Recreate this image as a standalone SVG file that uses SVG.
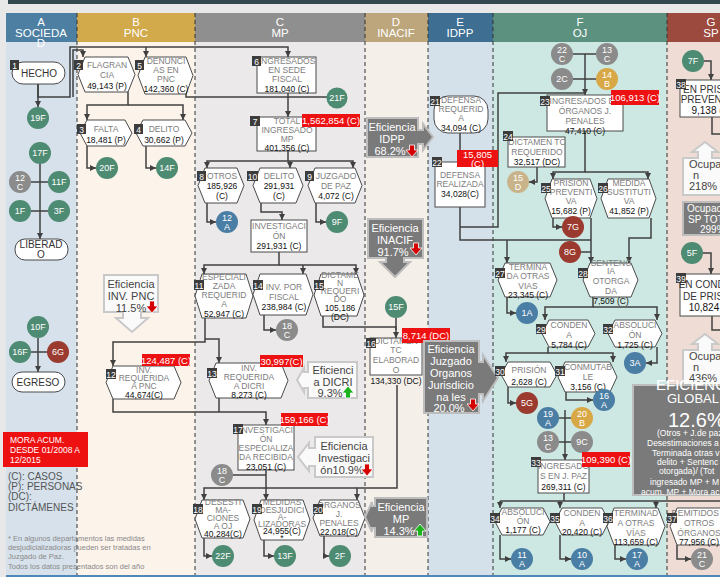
<svg xmlns="http://www.w3.org/2000/svg" width="720" height="577" viewBox="0 0 720 577">
<style>
text{font-family:"Liberation Sans",Arial,sans-serif}
.hd{font-size:11.5px;fill:#fff;text-anchor:middle}
.l{font-size:8.5px;fill:#7d7d7d;text-anchor:middle}
.v{font-size:8.5px;fill:#111;text-anchor:middle}
.d{font-size:10px;fill:#333;text-anchor:middle}
.bg{fill:#3c3c3c}
.bt{font-size:8.5px;fill:#fff;text-anchor:middle}
.ci{font-size:9px;fill:#fff;text-anchor:middle}
.rl{fill:#ee1111}
.rt{font-size:9.5px;fill:#fff;text-anchor:middle}
.cw{fill:#fafafa;stroke:#c9c9c9;stroke-width:2}
.cg{fill:#7a7a7a;stroke:#bdbdbd;stroke-width:2}
.ct{font-size:11px;fill:#444;text-anchor:middle}
.cgt{font-size:11px;fill:#fff;text-anchor:middle}
.n{fill:#fff;stroke:#4a4a4a;stroke-width:1}
.e{fill:none;stroke:#404040;stroke-width:1.5}
.a{marker-end:url(#ah)}
.dash{stroke:#333;stroke-width:1;stroke-dasharray:4 3}
.gF{fill:#4e8b73}.gC{fill:#8b8b8b}.gA{fill:#4a7ea5}.gG{fill:#9b3a2e}.gB{fill:#d8a847}.gD{fill:#c9b38a}
.sm{font-size:8.5px;fill:#fff}
</style>
<defs>
<marker id="ah" markerWidth="8" markerHeight="8" refX="6" refY="3" orient="auto" markerUnits="userSpaceOnUse"><path d="M0,0 L6,3 L0,6 z" fill="#404040"/></marker>
<path id="dn" d="M-2.5,-6 H2.5 V-1 H6 L0,6 L-6,-1 H-2.5 Z" fill="#d40000" stroke="#fff" stroke-width="0.8"/>
<path id="up" d="M-2.5,6 H2.5 V1 H6 L0,-6 L-6,1 H-2.5 Z" fill="#1db31d" stroke="#fff" stroke-width="0.8"/>
</defs>

<!-- background -->
<rect x="0" y="0" width="720" height="577" fill="#e8e8e8"/>
<rect x="8" y="0" width="712" height="4" fill="#34474f"/>
<rect x="6" y="42" width="71" height="533" fill="#d6e1eb"/>
<rect x="77" y="42" width="118" height="533" fill="#fcf3ea"/>
<rect x="195" y="42" width="170" height="533" fill="#ebe9ea"/>
<rect x="365" y="42" width="63" height="533" fill="#f5efe9"/>
<rect x="428" y="42" width="65" height="533" fill="#d5e1ea"/>
<rect x="493" y="42" width="174" height="533" fill="#cde8e2"/>
<rect x="667" y="42" width="53" height="533" fill="#efdcd5"/>
<rect x="6" y="575" width="714" height="2" fill="#4f87b8"/>

<!-- headers -->
<rect x="6" y="13" width="71" height="29" fill="#4d7fa3"/>
<rect x="77" y="13" width="118" height="29" fill="#d2a94b"/>
<rect x="195" y="13" width="170" height="29" fill="#8f8f8f"/>
<rect x="365" y="13" width="63" height="29" fill="#bda67c"/>
<rect x="428" y="13" width="65" height="29" fill="#3e6e92"/>
<rect x="493" y="13" width="174" height="29" fill="#5d917f"/>
<rect x="667" y="13" width="53" height="29" fill="#9c4a3e"/>
<text class="hd" x="41" y="26">A</text><text class="hd" x="41" y="36.5">SOCIEDA</text><text class="hd" x="41" y="47">D</text>
<text class="hd" x="136" y="26">B</text><text class="hd" x="136" y="36.5">PNC</text>
<text class="hd" x="280" y="26">C</text><text class="hd" x="280" y="36.5">MP</text>
<text class="hd" x="396" y="26">D</text><text class="hd" x="396" y="36.5">INACIF</text>
<text class="hd" x="460" y="26">E</text><text class="hd" x="460" y="36.5">IDPP</text>
<text class="hd" x="580" y="26">F</text><text class="hd" x="580" y="36.5">OJ</text>
<text class="hd" x="711" y="26">G</text><text class="hd" x="711" y="36.5">SP</text>

<g id="lanes">
<line class="dash" x1="77" y1="13" x2="77" y2="575"/>
<line class="dash" x1="195" y1="13" x2="195" y2="575"/>
<line class="dash" x1="365" y1="13" x2="365" y2="575"/>
<line class="dash" x1="428" y1="13" x2="428" y2="575"/>
<line class="dash" x1="493" y1="13" x2="493" y2="575"/>
<line class="dash" x1="667" y1="13" x2="667" y2="575"/>
</g>

<!-- connectors -->
<g id="connectors">
<path class="e a" d="M38,84 V107"/>
<path class="e a" d="M38,84 V97 H70 V47 H288 V57"/>
<path class="e a" d="M146,47 V57"/>
<path class="e a" d="M73,97 V50 H83 V57"/>
<path class="e a" d="M128,92 V105 H87 V120"/>
<path class="e a" d="M128,105 H183 V120"/>
<path class="e a" d="M87,146 V168 H96"/>
<path class="e a" d="M146,146 V168 H156"/>
<path class="e" d="M186,92 V97 H327"/>
<path class="e a" d="M288,93 V117"/>
<path class="e a" d="M288,151 V161 H207 V168"/>
<path class="e a" d="M288,161 H353 V168"/>
<path class="e a" d="M290,161 V168"/>
<path class="e a" d="M207,203 V222 H216"/>
<path class="e a" d="M316,203 V222 H326"/>
<path class="e a" d="M261,203 V212 H282 V220"/>
<path class="e a" d="M279,252 V265 H204 V274"/>
<path class="e a" d="M279,265 H356 V274"/>
<path class="e a" d="M303,265 V274"/>
<path class="e a" d="M264,315 V330 H276"/>
<path class="e a" d="M323,316 V327 H396 V338"/>
<path class="e" d="M396,318 V330"/>
<path class="e a" d="M205,318 V342 H113 V366"/>
<path class="e a" d="M205,339 H219 V363"/>
<path class="e a" d="M113,399 V412 H266 V425"/>
<path class="e" d="M219,398 V412"/>
<path class="e" d="M233,475 H266"/>
<path class="e a" d="M266,470 V488 H204 V500"/>
<path class="e a" d="M266,488 V500"/>
<path class="e a" d="M397,385 V488 H357 V500"/>
<path class="e" d="M266,488 H357"/>
<path class="e a" d="M204,538 V556 H212"/>
<path class="e a" d="M264,540 V556 H274"/>
<path class="e a" d="M324,536 V556 H329"/>
<path class="e a" d="M460,133 V162"/>
<path class="e" d="M460,207 V240 H591"/>
<path class="e a" d="M507,240 V263"/>
<path class="e" d="M460,227 H498 V93 H585"/>
<path class="e" d="M573,54 H596 M573,79 H596"/>
<path class="e a" d="M585,54 V95"/>
<path class="e a" d="M585,131 V172 H553 V179"/>
<path class="e a" d="M585,172 H648 V179"/>
<path class="e a" d="M537,167 V182 H529"/>
<path class="e a" d="M553,218 V227 H562"/>
<path class="e a" d="M591,218 V263"/>
<path class="e" d="M581,252 H591"/>
<path class="e a" d="M651,218 V238 H629 V263"/>
<path class="e a" d="M507,297 V313 H516"/>
<path class="e a" d="M593,297 V307 H545 V320"/>
<path class="e a" d="M593,307 H657 V320"/>
<path class="e a" d="M657,347 V363 H646"/>
<path class="e a" d="M548,347 V353 H506 V362"/>
<path class="e a" d="M548,353 H613 V362"/>
<path class="e a" d="M508,387 V403 H516"/>
<path class="e a" d="M566,392 V400 H593"/>
<path class="e" d="M559,418 H571 M559,442 H571"/>
<path class="e a" d="M565,410 V460"/>
<path class="e" d="M564,493 V501 M500,501 H720"/>
<path class="e a" d="M500,501 V508"/>
<path class="e a" d="M560,501 V508"/>
<path class="e a" d="M656,501 V508"/>
<path class="e a" d="M500,535 V559 H511"/>
<path class="e a" d="M560,535 V559 H571"/>
<path class="e a" d="M615,545 V559 H626"/>
<path class="e a" d="M677,545 V559 H691"/>
<path class="e a" d="M704,61 H711 V80"/>
<path class="e" d="M712,117 V134 H720"/>
<path class="e a" d="M703,253 H711 V274"/>
<path class="e" d="M712,316 V330 H720"/>
<path class="e a" d="M40,164 V239"/>
<path class="e" d="M31,182 H48 M31,211 H48"/>
<path class="e a" d="M38,338 V372"/>
<path class="e" d="M31,352 H47"/>
</g>

<!-- Column A nodes -->
<g id="n1"><rect class="n" x="12" y="62" width="53" height="22" rx="11"/><text class="d" x="39" y="77">HECHO</text><rect class="bg" x="10" y="60" width="9" height="10"/><text class="bt" x="14.5" y="68.5">1</text></g>
<g id="liberado"><rect class="n" x="15" y="239" width="53" height="21" rx="10"/><text class="d" x="41" y="248">LIBERAD</text><text class="d" x="41" y="258">O</text></g>
<g id="egreso"><rect class="n" x="12" y="372" width="53" height="20" rx="10"/><text class="d" x="38" y="386">EGRESO</text></g>
<g id="c19F"><circle class="gF" cx="38" cy="118" r="11"/><text class="ci" x="38" y="121">19F</text></g>
<g id="c17F"><circle class="gF" cx="40" cy="153" r="11"/><text class="ci" x="40" y="156">17F</text></g>
<g id="c12C"><circle class="gC" cx="20" cy="182" r="11"/><text class="ci" x="20" y="181">12</text><text class="ci" x="20" y="190">C</text></g>
<g id="c11F"><circle class="gF" cx="59" cy="182" r="11"/><text class="ci" x="59" y="185">11F</text></g>
<g id="c1F"><circle class="gF" cx="20" cy="211" r="11"/><text class="ci" x="20" y="214">1F</text></g>
<g id="c3F"><circle class="gF" cx="59" cy="211" r="11"/><text class="ci" x="59" y="214">3F</text></g>
<g id="c10F"><circle class="gF" cx="38" cy="327" r="11"/><text class="ci" x="38" y="330">10F</text></g>
<g id="c16F"><circle class="gF" cx="20" cy="352" r="11"/><text class="ci" x="20" y="355">16F</text></g>
<g id="c6G"><circle class="gG" cx="58" cy="352" r="11"/><text class="ci" x="58" y="355">6G</text></g>

<g id="legend">
<rect x="3" y="432" width="85" height="35" fill="#ee1111"/>
<text x="10" y="443" style="font-size:8.5px;fill:#fff">MORA ACUM.</text>
<text x="10" y="453" style="font-size:8.5px;fill:#fff">DESDE 01/2008 A</text>
<text x="10" y="463" style="font-size:8.5px;fill:#fff">12/2015</text>
<text x="8" y="480" style="font-size:10px;fill:#555">(C): CASOS</text>
<text x="8" y="490" style="font-size:10px;fill:#555">(P): PERSONAS</text>
<text x="8" y="500" style="font-size:10px;fill:#555">(DC):</text>
<text x="8" y="511" style="font-size:10px;fill:#555">DICTÁMENES</text>
<text x="8" y="541" style="font-size:7.5px;fill:#8a8a8a">* En algunos departamentos las medidas</text>
<text x="8" y="550" style="font-size:7.5px;fill:#8a8a8a">desjudicializadoras pueden ser tratadas en</text>
<text x="8" y="559" style="font-size:7.5px;fill:#8a8a8a">Juzgado de Paz.</text>
<text x="8" y="569" style="font-size:7.5px;fill:#8a8a8a">Todos los datos presentados son del año</text>
</g>

<!-- Column B nodes -->
<g id="n2"><polygon class="n" points="85,57 128,57 135,74.5 128,92 85,92 78,74.5"/><text class="l" x="107" y="68">FLAGRAN</text><text class="l" x="107" y="78">CIA</text><text class="v" x="107" y="89">49,143 (P)</text><rect class="bg" x="74" y="60" width="9" height="10"/><text class="bt" x="78.5" y="68.5">2</text></g>
<g id="n5"><polygon class="n" points="145,57 186,57 193,75.5 186,94 145,94 138,75.5"/><text class="l" x="166" y="64">DENUNCI</text><text class="l" x="166" y="73">AS EN</text><text class="l" x="166" y="82">PNC</text><text class="v" x="166" y="92">142,360 (C)</text><rect class="bg" x="135" y="60" width="9" height="10"/><text class="bt" x="139.5" y="68.5">5</text></g>
<g id="n3"><polygon class="n" points="87,120 125,120 132,133 125,146 87,146 80,133"/><text class="l" x="106" y="132">FALTA</text><text class="v" x="106" y="143">18,481 (P)</text><rect class="bg" x="77" y="124" width="9" height="10"/><text class="bt" x="81.5" y="132.5">3</text></g>
<g id="n4"><polygon class="n" points="143,120 185,120 192,133 185,146 143,146 136,133"/><text class="l" x="164" y="132">DELITO</text><text class="v" x="164" y="143">30,662 (P)</text><rect class="bg" x="134" y="124" width="9" height="10"/><text class="bt" x="138.5" y="132.5">4</text></g>
<g id="c20F"><circle class="gF" cx="107" cy="168" r="11"/><text class="ci" x="107" y="171">20F</text></g>
<g id="c14F"><circle class="gF" cx="167" cy="168" r="11"/><text class="ci" x="167" y="171">14F</text></g>
<g id="n12"><polygon class="n" points="113,366 174,366 181,382.5 174,399 113,399 106,382.5"/><text class="l" x="144" y="373">INV.</text><text class="l" x="144" y="381">REQUERIDA</text><text class="l" x="144" y="389">A PNC</text><text class="v" x="144" y="398">44,674(C)</text><rect class="bg" x="106" y="369" width="10" height="10"/><text class="bt" x="111" y="377.5">12</text>
<rect class="rl" x="142" y="354" width="48" height="12"/><text class="rt" x="166" y="363.5">124,487 (C)</text></g>

<g id="eff-pnc"><path class="cw" d="M104,275 H158 V312 H141 V318 H148 L132,332 L116,318 H123 V312 H104 Z"/><text class="ct" x="131" y="288">Eficiencia</text><text class="ct" x="131" y="300">INV. PNC</text><text class="ct" x="131" y="312">11.5%</text><use href="#dn" x="152" y="307"/></g>

<!-- Column C nodes -->
<g id="n6"><rect class="n" x="257" y="57" width="59" height="36"/><text class="l" x="287" y="64">INGRESADOS</text><text class="l" x="287" y="73">EN SEDE</text><text class="l" x="287" y="82">FISCAL</text><text class="v" x="287" y="92">181,040 (C)</text><rect class="bg" x="252" y="56" width="9" height="10"/><text class="bt" x="256.5" y="64.5">6</text></g>
<g id="c21F"><circle class="gF" cx="337" cy="98" r="10.5"/><text class="ci" x="337" y="101">21F</text></g>
<g id="n7"><rect class="n" x="257" y="117" width="59" height="34"/><text class="l" x="287" y="124">TOTAL</text><text class="l" x="287" y="133">INGRESADO</text><text class="l" x="287" y="142">MP</text><text class="v" x="287" y="151">401,356 (C)</text><rect class="bg" x="250" y="116" width="10" height="10"/><text class="bt" x="255" y="124.5">7</text>
<rect class="rl" x="302" y="114" width="58" height="13"/><text class="rt" x="331" y="124">1,562,854 (C)</text></g>
<g id="n8"><polygon class="n" points="205,168 237,168 244,185.5 237,203 205,203 198,185.5"/><text class="l" x="222" y="179">OTROS</text><text class="v" x="222" y="189">185,926</text><text class="v" x="222" y="199">(C)</text><rect class="bg" x="197" y="171" width="9" height="10"/><text class="bt" x="201.5" y="179.5">8</text></g>
<g id="n10"><polygon class="n" points="260,168 296,168 303,185.5 296,203 260,203 253,185.5"/><text class="l" x="279" y="179">DELITO</text><text class="v" x="279" y="189">291,931</text><text class="v" x="279" y="199">(C)</text><rect class="bg" x="247" y="171" width="11" height="10"/><text class="bt" x="252.5" y="179.5">10</text></g>
<g id="n9"><polygon class="n" points="315,168 355,168 362,185.5 355,203 315,203 308,185.5"/><text class="l" x="336" y="179">JUZGADO</text><text class="l" x="336" y="189">DE PAZ</text><text class="v" x="336" y="199">4,072 (C)</text><rect class="bg" x="305" y="171" width="9" height="10"/><text class="bt" x="309.5" y="179.5">9</text></g>
<g id="c12A"><circle class="gA" cx="227" cy="222" r="11"/><text class="ci" x="227" y="221">12</text><text class="ci" x="227" y="230">A</text></g>
<g id="c9F"><circle class="gF" cx="337" cy="222" r="11"/><text class="ci" x="337" y="225">9F</text></g>
<g id="ninv"><rect class="n" x="251" y="220" width="56" height="32"/><text class="l" x="279" y="229">INVESTIGACI</text><text class="l" x="279" y="239">ÓN</text><text class="v" x="279" y="249">291,931 (C)</text></g>
<g id="n11"><polygon class="n" points="202,274 246,274 253,296 246,318 202,318 195,296"/><text class="l" x="224" y="280">ESPECIALI</text><text class="l" x="224" y="289">ZADA</text><text class="l" x="224" y="298">REQUERID</text><text class="l" x="224" y="307">A</text><text class="v" x="224" y="317">52,947 (C)</text><rect class="bg" x="194" y="280" width="10" height="10"/><text class="bt" x="199" y="288.5">11</text></g>
<g id="n14"><polygon class="n" points="260,274 306,274 313,294.5 306,315 260,315 253,294.5"/><text class="l" x="284" y="290">INV. POR</text><text class="l" x="284" y="300">FISCAL</text><text class="v" x="284" y="310">238,984 (C)</text><rect class="bg" x="253" y="280" width="10" height="10"/><text class="bt" x="258" y="288.5">14</text></g>
<g id="n15"><polygon class="n" points="321,274 357,274 364,295 357,316 321,316 314,295"/><text class="l" x="340" y="278">DICTAME</text><text class="l" x="340" y="286">N</text><text class="l" x="340" y="294">REQUERI</text><text class="l" x="340" y="302">DO</text><text class="v" x="340" y="311">105,186</text><text class="v" x="340" y="320">(DC)</text><rect class="bg" x="314" y="280" width="10" height="10"/><text class="bt" x="319" y="288.5">15</text></g>
<g id="c18C"><circle class="gC" cx="287" cy="330" r="11"/><text class="ci" x="287" y="329">18</text><text class="ci" x="287" y="338">C</text></g>
<g id="n13"><polygon class="n" points="216,363 281,363 288,380.5 281,398 216,398 209,380.5"/><text class="l" x="249" y="371">INV.</text><text class="l" x="249" y="380">REQUERIDA</text><text class="l" x="249" y="389">A DICRI</text><text class="v" x="249" y="398">8,273 (C)</text><rect class="bg" x="207" y="368" width="10" height="10"/><text class="bt" x="212" y="376.5">13</text>
<rect class="rl" x="260" y="355" width="43" height="12"/><text class="rt" x="281.5" y="364.5">30,997(C)</text></g>
<g id="n17"><rect class="n" x="238" y="425" width="56" height="45"/><text class="l" x="266" y="433">INVESTIGACI</text><text class="l" x="266" y="442">ÓN</text><text class="l" x="266" y="451">ESPECIALIZA</text><text class="l" x="266" y="460">DA RECIBIDA</text><text class="v" x="266" y="470">23,051 (C)</text><rect class="bg" x="233" y="424" width="10" height="10"/><text class="bt" x="238" y="432.5">17</text>
<rect class="rl" x="281" y="413" width="47" height="13"/><text class="rt" x="304.5" y="423">159,166 (C)</text></g>
<g id="c18C2"><circle class="gC" cx="222" cy="475" r="11"/><text class="ci" x="222" y="474">18</text><text class="ci" x="222" y="483">C</text></g>
<g id="n18"><polygon class="n" points="202,500 243,500 250,519 243,538 202,538 195,519"/><text class="l" x="223" y="505">DESESTI</text><text class="l" x="223" y="513">MA-</text><text class="l" x="223" y="521">CIONES</text><text class="l" x="223" y="529">A OJ</text><text class="v" x="223" y="537">40,284(C)</text><rect class="bg" x="193" y="504" width="10" height="10"/><text class="bt" x="198" y="512.5">18</text></g>
<g id="n19"><polygon class="n" points="261,500 303,500 310,520 303,540 261,540 254,520"/><text class="l" x="282" y="505">MEDIDAS</text><text class="l" x="282" y="513">DESJUDICI</text><text class="l" x="282" y="520">A-</text><text class="l" x="282" y="527">LIZADORAS</text><text class="v" x="282" y="534">24,955(C)</text><text class="v" x="282" y="541">*</text><rect class="bg" x="252" y="504" width="10" height="10"/><text class="bt" x="257" y="512.5">19</text></g>
<g id="n20"><polygon class="n" points="320,500 358,500 365,518 358,536 320,536 313,518"/><text class="l" x="339" y="508">ÓRGANOS</text><text class="l" x="339" y="517">J.</text><text class="l" x="339" y="526">PENALES</text><text class="v" x="339" y="535">22,018(C)</text><rect class="bg" x="313" y="504" width="10" height="10"/><text class="bt" x="318" y="512.5">20</text></g>
<g id="c22F"><circle class="gF" cx="223" cy="556" r="11"/><text class="ci" x="223" y="559">22F</text></g>
<g id="c13F"><circle class="gF" cx="285" cy="556" r="11"/><text class="ci" x="285" y="559">13F</text></g>
<g id="c2F"><circle class="gF" cx="340" cy="556" r="11"/><text class="ci" x="340" y="559">2F</text></g>

<g id="eff-dicri"><path class="cw" d="M357,362 V398 H308 V388 H304 V392 L297,380 L304,368 V372 H308 V362 Z"/><text class="ct" x="333" y="374">Eficienci</text><text class="ct" x="333" y="386">a DICRI</text><text class="ct" x="330" y="397">9.3%</text><use href="#up" x="348" y="392"/></g>
<g id="eff-inv"><path class="cw" d="M373,437 V477 H315 V466 H309 V471 L298,457 L309,443 V448 H315 V437 Z"/><text class="ct" x="344" y="450">Eficiencia</text><text class="ct" x="344" y="462">Investigaci</text><text class="ct" x="342" y="474">ón10.9%</text><use href="#dn" x="367" y="470"/></g>

<!-- Column D -->
<g id="eff-idpp"><path class="cg" d="M367,118 H418 V130 H423 V124 L433,137 L423,150 V144 H418 V157 H367 Z"/><text class="cgt" x="392" y="131">Eficiencia</text><text class="cgt" x="392" y="143">IDPP</text><text class="cgt" x="390" y="155">68.2%</text><use href="#dn" x="412" y="151"/></g>
<g id="eff-inacif"><path class="cg" d="M368,219 H423 V258 H404 V262 H410 L395,277 L380,262 H386 V258 H368 Z"/><text class="cgt" x="395" y="232">Eficiencia</text><text class="cgt" x="395" y="244">INACIF</text><text class="cgt" x="393" y="256">91.7%</text><use href="#dn" x="416" y="249"/></g>
<g id="c15F"><circle class="gF" cx="396" cy="307" r="11"/><text class="ci" x="396" y="310">15F</text></g>
<g id="n16"><rect class="n" x="370" y="338" width="52" height="37"/><text class="l" x="396" y="344">DICTAMEN</text><text class="l" x="396" y="353">TC</text><text class="l" x="396" y="363">ELABORAD</text><text class="l" x="396" y="373">O</text><text class="v" x="396" y="384">134,330 (DC)</text><rect class="bg" x="366" y="338" width="10" height="10"/><text class="bt" x="371" y="346.5">16</text>
<rect class="rl" x="402" y="328" width="48" height="15"/><text class="rt" x="426" y="339">8,714 (DC)</text></g>
<g id="eff-juz"><path class="cg" d="M424,341 H479 V362 H483 V355 L498,378 L483,401 V394 H479 V413 H424 Z"/><text class="cgt" x="451" y="353">Eficiencia</text><text class="cgt" x="451" y="365">Juzgado</text><text class="cgt" x="451" y="377">Organos</text><text class="cgt" x="451" y="389">Jurisdicio</text><text class="cgt" x="451" y="401">na les</text><text class="cgt" x="449" y="412">20.0%</text><use href="#dn" x="473" y="405"/></g>
<g id="eff-mp"><path class="cg" d="M427,498 V537 H375 V528 H372 V532 L365,517 L372,502 V506 H375 V498 Z"/><text class="cgt" x="401" y="511">Eficiencia</text><text class="cgt" x="401" y="523">MP</text><text class="cgt" x="399" y="535">14.3%</text><use href="#up" x="420" y="530"/></g>

<!-- Column E -->
<g id="n21"><rect class="n" x="434" y="96" width="54" height="37" rx="14"/><text class="l" x="461" y="103">DEFENSA</text><text class="l" x="461" y="112">REQUERID</text><text class="l" x="461" y="121">A</text><text class="v" x="461" y="131">34,094 (C)</text><rect class="bg" x="430" y="96" width="10" height="10"/><text class="bt" x="435" y="104.5">21</text></g>
<g id="n22"><rect class="n" x="435" y="162" width="50" height="45"/><text class="l" x="460" y="178">DEFENSA</text><text class="l" x="460" y="187">REALIZADA</text><text class="v" x="460" y="197">34,028(C)</text><rect class="bg" x="432" y="157" width="10" height="10"/><text class="bt" x="437" y="165.5">22</text>
<rect class="rl" x="457" y="150" width="41" height="17"/><text class="rt" x="477.5" y="158">15,805</text><text class="rt" x="477.5" y="167">(C)</text></g>

<!-- Column F -->
<g id="c22C"><circle class="gC" cx="562" cy="54" r="11"/><text class="ci" x="562" y="53">22</text><text class="ci" x="562" y="62">C</text></g>
<g id="c13C"><circle class="gC" cx="607" cy="54" r="11"/><text class="ci" x="607" y="53">13</text><text class="ci" x="607" y="62">C</text></g>
<g id="c2C"><circle class="gC" cx="562" cy="79" r="11"/><text class="ci" x="562" y="82">2C</text></g>
<g id="c14B"><circle class="gB" cx="607" cy="79" r="11"/><text class="ci" x="607" y="78">14</text><text class="ci" x="607" y="87">B</text></g>
<g id="n23"><rect class="n" x="547" y="95" width="76" height="36"/><text class="l" x="585" y="104">INGRESADOS EN</text><text class="l" x="585" y="114">ÓRGANOS J.</text><text class="l" x="585" y="124">PENALES</text><text class="v" x="585" y="134">47,410 (C)</text><rect class="bg" x="540" y="96" width="10" height="10"/><text class="bt" x="545" y="104.5">23</text>
<rect class="rl" x="611" y="90" width="48" height="15"/><text class="rt" x="635" y="101">106,913 (C)</text></g>
<g id="n24"><rect class="n" x="508" y="137" width="57" height="30"/><text class="l" x="537" y="145">DICTAMEN TC</text><text class="l" x="537" y="155">REQUERIDO</text><text class="v" x="537" y="165">32,517 (DC)</text><rect class="bg" x="503" y="131" width="10" height="10"/><text class="bt" x="508" y="139.5">24</text></g>
<g id="c15D"><circle class="gD" cx="518" cy="182" r="11"/><text class="ci" x="518" y="181">15</text><text class="ci" x="518" y="190">D</text></g>
<g id="n25"><polygon class="n" points="552,179 590,179 597,198.5 590,218 552,218 545,198.5"/><text class="l" x="571" y="186">PRISIÓN</text><text class="l" x="571" y="195">PREVENTI</text><text class="l" x="571" y="204">VA</text><text class="v" x="571" y="214">15,682 (P)</text><rect class="bg" x="541" y="183" width="10" height="10"/><text class="bt" x="546" y="191.5">25</text></g>
<g id="n26"><polygon class="n" points="608,179 649,179 656,198.5 649,218 608,218 601,198.5"/><text class="l" x="629" y="186">MEDIDA</text><text class="l" x="629" y="195">SUSTITUTI</text><text class="l" x="629" y="204">VA</text><text class="v" x="629" y="214">41,852 (P)</text><rect class="bg" x="598" y="183" width="10" height="10"/><text class="bt" x="603" y="191.5">26</text></g>
<g id="c7G"><circle class="gG" cx="573" cy="227" r="11"/><text class="ci" x="573" y="230">7G</text></g>
<g id="c8G"><circle class="gG" cx="570" cy="252" r="11"/><text class="ci" x="570" y="255">8G</text></g>
<g id="n27"><polygon class="n" points="505,263 550,263 557,280 550,297 505,297 498,280"/><text class="l" x="528" y="270">TERMINA</text><text class="l" x="528" y="279">DA OTRAS</text><text class="l" x="528" y="289">VIAS</text><text class="v" x="528" y="298">23,345 (C)</text><rect class="bg" x="495" y="268" width="10" height="10"/><text class="bt" x="500" y="276.5">27</text></g>
<g id="n28"><polygon class="n" points="590,263 631,263 638,280 631,297 590,297 583,280"/><text class="l" x="611" y="266">SENTENC</text><text class="l" x="611" y="274">IA</text><text class="l" x="611" y="284">OTORGA</text><text class="l" x="611" y="294">DA</text><text class="v" x="611" y="304">7,509 (C)</text><rect class="bg" x="578" y="268" width="10" height="10"/><text class="bt" x="583" y="276.5">28</text></g>
<g id="c1A"><circle class="gA" cx="527" cy="313" r="11"/><text class="ci" x="527" y="316">1A</text></g>
<g id="n29"><polygon class="n" points="549,320 588,320 595,333.5 588,347 549,347 542,333.5"/><text class="l" x="569" y="328">CONDEN</text><text class="l" x="569" y="338">A</text><text class="v" x="569" y="348">5,784 (C)</text><rect class="bg" x="536" y="324" width="10" height="10"/><text class="bt" x="541" y="332.5">29</text></g>
<g id="n32"><polygon class="n" points="615,320 655,320 662,333.5 655,347 615,347 608,333.5"/><text class="l" x="635" y="328">ABSOLUCI</text><text class="l" x="635" y="338">ÓN</text><text class="v" x="635" y="348">1,725 (C)</text><rect class="bg" x="603" y="324" width="10" height="10"/><text class="bt" x="608" y="332.5">32</text></g>
<g id="c3A"><circle class="gA" cx="635" cy="363" r="11"/><text class="ci" x="635" y="366">3A</text></g>
<g id="n30"><polygon class="n" points="508,362 550,362 557,374.5 550,387 508,387 501,374.5"/><text class="l" x="529" y="373">PRISIÓN</text><text class="v" x="529" y="385">2,628 (C)</text><rect class="bg" x="495" y="366" width="10" height="10"/><text class="bt" x="500" y="374.5">30</text></g>
<g id="n31"><polygon class="n" points="565,362 610,362 617,377 610,392 565,392 558,377"/><text class="l" x="588" y="370">CONMUTAB</text><text class="l" x="588" y="380">LE</text><text class="v" x="588" y="390">3,156 (C)</text><rect class="bg" x="555" y="366" width="10" height="10"/><text class="bt" x="560" y="374.5">31</text></g>
<g id="c5G"><circle class="gG" cx="527" cy="403" r="11"/><text class="ci" x="527" y="406">5G</text></g>
<g id="c16A"><circle class="gA" cx="604" cy="400" r="11"/><text class="ci" x="604" y="399">16</text><text class="ci" x="604" y="408">A</text></g>
<g id="c19A"><circle class="gA" cx="548" cy="418" r="11"/><text class="ci" x="548" y="417">19</text><text class="ci" x="548" y="426">A</text></g>
<g id="c20B"><circle class="gB" cx="582" cy="418" r="11"/><text class="ci" x="582" y="417">20</text><text class="ci" x="582" y="426">B</text></g>
<g id="c13C2"><circle class="gC" cx="548" cy="442" r="11"/><text class="ci" x="548" y="441">13</text><text class="ci" x="548" y="450">C</text></g>
<g id="c9C"><circle class="gC" cx="582" cy="442" r="11"/><text class="ci" x="582" y="445">9C</text></g>
<g id="n33"><rect class="n" x="538" y="460" width="51" height="33"/><text class="l" x="563.5" y="469">INGRESADO</text><text class="l" x="563.5" y="479">S EN J. PAZ</text><text class="v" x="563.5" y="490">269,311 (C)</text><rect class="bg" x="531" y="457" width="10" height="10"/><text class="bt" x="536" y="465.5">33</text>
<rect class="rl" x="582" y="452" width="48" height="15"/><text class="rt" x="606" y="463">109,390 (C)</text></g>
<g id="n34"><polygon class="n" points="502,508 543,508 550,521.5 543,535 502,535 495,521.5"/><text class="l" x="523" y="515">ABSOLUCI</text><text class="l" x="523" y="524">ÓN</text><text class="v" x="523" y="533">1,177 (C)</text><rect class="bg" x="490" y="513" width="10" height="10"/><text class="bt" x="495" y="521.5">34</text></g>
<g id="n35"><polygon class="n" points="562,508 602,508 609,521.5 602,535 562,535 555,521.5"/><text class="l" x="582" y="516">CONDEN</text><text class="l" x="582" y="526">A</text><text class="v" x="582" y="535">20,420 (C)</text><rect class="bg" x="550" y="513" width="10" height="10"/><text class="bt" x="555" y="521.5">35</text></g>
<g id="n36"><polygon class="n" points="614,508 658,508 665,526.5 658,545 614,545 607,526.5"/><text class="l" x="636" y="516">TERMINAD</text><text class="l" x="636" y="526">A OTRAS</text><text class="l" x="636" y="536">VÍAS</text><text class="v" x="636" y="545">113,659 (C)</text><rect class="bg" x="603" y="513" width="10" height="10"/><text class="bt" x="608" y="521.5">36</text></g>
<g id="n37"><polygon class="n" points="677,508 721,508 728,526.5 721,545 677,545 670,526.5"/><text class="l" x="699" y="516">REMITIDOS A</text><text class="l" x="699" y="526">OTROS</text><text class="l" x="699" y="536">ÓRGANOS</text><text class="v" x="699" y="545">77,956 (C)</text><rect class="bg" x="667" y="513" width="10" height="10"/><text class="bt" x="672" y="521.5">37</text></g>
<g id="c11A"><circle class="gA" cx="522" cy="559" r="11"/><text class="ci" x="522" y="558">11</text><text class="ci" x="522" y="567">A</text></g>
<g id="c10A"><circle class="gA" cx="582" cy="559" r="11"/><text class="ci" x="582" y="558">10</text><text class="ci" x="582" y="567">A</text></g>
<g id="c17A"><circle class="gA" cx="637" cy="559" r="11"/><text class="ci" x="637" y="558">17</text><text class="ci" x="637" y="567">A</text></g>
<g id="c21C"><circle class="gC" cx="702" cy="559" r="11"/><text class="ci" x="702" y="558">21</text><text class="ci" x="702" y="567">C</text></g>

<!-- Column G -->
<g id="c7F"><circle class="gF" cx="693" cy="61" r="11"/><text class="ci" x="693" y="64">7F</text></g>
<g id="n38"><rect class="n" x="680" y="80" width="60" height="37"/><text class="d" x="712" y="93">EN PRISIÓN</text><text class="d" x="712" y="103">PREVENTIVA</text><text class="d" x="712" y="114" style="fill:#111">9,138 (P)</text><rect class="bg" x="676" y="79" width="10" height="10"/><text class="bt" x="681" y="87.5">38</text></g>
<g id="occ1"><path class="cw" d="M683,158 H698 V152 H692 L705,142 L718,152 H712 V158 H735 V195 H683 Z"/><text x="689" y="168" style="font-size:11px;fill:#444">Ocupació</text><text x="693" y="179" style="font-size:11px;fill:#444">n</text><text x="689" y="190" style="font-size:11px;fill:#444">218%</text></g>
<g id="occsp"><rect class="cg" x="683" y="202" width="52" height="33"/><text x="687" y="212" style="font-size:10px;fill:#fff">Ocupación</text><text x="688" y="223" style="font-size:10px;fill:#fff">SP TOTAL</text><text x="700" y="233" style="font-size:10px;fill:#fff">299%</text></g>
<g id="c5F"><circle class="gF" cx="692" cy="253" r="11"/><text class="ci" x="692" y="256">5F</text></g>
<g id="n39"><rect class="n" x="680" y="274" width="60" height="42"/><text class="d" x="712" y="288">EN CONDENA</text><text class="d" x="712" y="300">DE PRISIÓN</text><text class="d" x="712" y="311" style="fill:#111">10,824 (P)</text><rect class="bg" x="676" y="273" width="10" height="10"/><text class="bt" x="681" y="281.5">39</text></g>
<g id="occ2"><path class="cw" d="M683,350 H698 V344 H692 L705,334 L718,344 H712 V350 H735 V395 H683 Z"/><text x="689" y="360" style="font-size:11px;fill:#444">Ocupació</text><text x="693" y="371" style="font-size:11px;fill:#444">n</text><text x="689" y="382" style="font-size:11px;fill:#444">436%</text></g>

<g id="global"><rect class="cg" x="633" y="385" width="127" height="110"/>
<text x="656" y="390" style="font-size:15px;fill:#fff">EFICIENCIA</text>
<text x="667" y="403" style="font-size:13px;fill:#fff">GLOBAL</text>
<text x="668" y="427" style="font-size:20px;fill:#fff">12.6%</text>
<text class="sm" x="657" y="436">(Otros + J.de paz +</text>
<text class="sm" x="647" y="446">Desestimaciones a</text>
<text class="sm" x="652" y="456">Terminada otras v</text>
<text class="sm" x="657" y="465">delito + Sentenc</text>
<text class="sm" x="659" y="474">otorgada)/ (Tot</text>
<text class="sm" x="650" y="485">ingresado MP + M</text>
<text class="sm" x="641" y="495">acum. MP + Mora ac</text>
</g>
</svg>
